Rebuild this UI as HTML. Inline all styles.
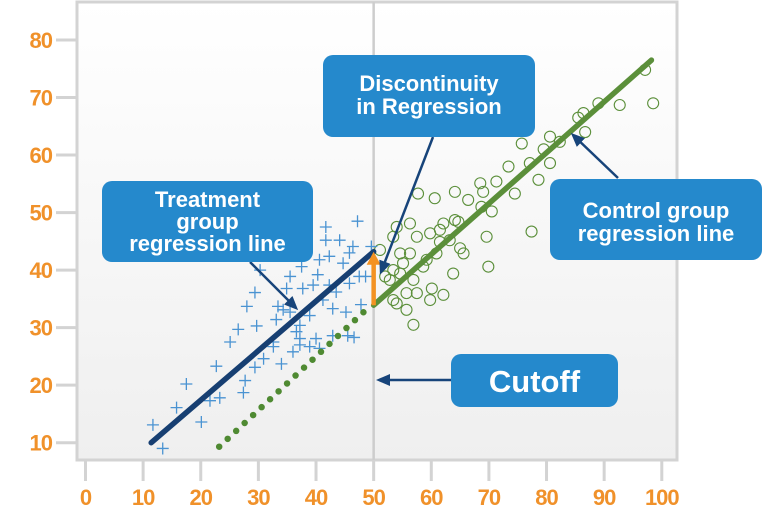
<!DOCTYPE html>
<html><head><meta charset="utf-8"><style>
html,body{margin:0;padding:0;background:#fff;}
svg{display:block;font-family:"Liberation Sans",sans-serif;}
</style></head><body>
<svg id="chart" width="767" height="529" viewBox="0 0 767 529">
<defs>
<linearGradient id="bg" x1="0" y1="0" x2="0" y2="1"><stop offset="0" stop-color="#ffffff"/><stop offset="1" stop-color="#efefef"/></linearGradient>
<marker id="ah" markerWidth="14" markerHeight="12" refX="11" refY="6" orient="auto" markerUnits="userSpaceOnUse"><path d="M0,0 L14,6 L0,12 Z" fill="#17447a"/></marker>
</defs>
<rect x="77" y="2" width="600" height="458" fill="url(#bg)" stroke="#d3d3d3" stroke-width="3"/>
<g id="axes"></g>
<g id="marks"></g>
<g id="annotations"></g>
</svg>
<script>
const xTicks=[0,10,20,30,40,50,60,70,80,90,100];
const yTicks=[10,20,30,40,50,60,70,80];
const cutoff=50;
const treatX=[11.7,13.4,15.8,17.5,20.1,21.6,23.3,22.7,25.1,26.5,28,29.4,29.7,27.7,27.4,29.4,30.9,30.3,32.6,34,33.4,35.5,36,37.2,37.5,38.9,40,40.3,41.7,41.2,42.3,42.9,44.1,45.2,45.5,45.8,47.2,47.5,48.6,47.8,49.6,46.6,40.6,38.9,37.2,36.6,37.7,39.5,42.3,43.5,34.9,33.1,32.6,34.3,40.6,45.8,46.4,44.7,41.7,42.9,35.5,37.2];
const treatY=[13.1,9,16.1,20.2,13.6,17.3,17.8,23.3,27.5,29.7,33.7,36.1,30.3,20.8,18.7,23.1,24.6,40,27.5,23.7,33.7,38.9,25.8,30.4,40.6,32.1,28.1,39.2,47.5,34.8,42.4,28.6,45.2,32.7,28.6,43,48.5,38.9,38.9,34,44.1,28.3,26.4,26.7,27,29.3,36.8,37.4,37.4,36.2,36.8,31.4,26.7,33.1,41.8,37.7,44.1,41.2,45.2,33.3,32.7,28.1];
const ctrlX=[56.9,98.5,97.1,92.7,89,86.4,86.7,80.6,82.3,75.7,73.4,77.1,80.6,78.6,77.4,68.5,71.3,69,74.5,57.7,60.6,64.1,66.4,70.5,68.7,62.1,64.7,69.6,69.9,63.8,65,65.6,56.3,54,53.4,59.8,61.5,63.2,57.5,51.1,54.6,55.1,53.4,52.8,56.9,58.6,60.9,59.2,55.7,57.5,60.1,62.1,59.8,54,55.7,52,54.6,64.1,61.5,56.3,53.4,85.5,79.5];
const ctrlY=[30.5,69,74.8,68.7,69,67.3,64,63.2,62.3,62,58,58.6,58.6,55.7,46.7,55.1,55.4,53.6,53.3,53.3,52.5,53.6,52.2,50.2,51,48.1,48.4,45.8,40.6,39.4,43.8,42.9,48.1,47.5,45.8,46.4,47,45.2,45.8,43.5,42.9,41.2,40,38.3,38.3,40.6,42.9,41.8,36,36,36.8,35.7,34.8,34.2,33.1,38.9,39.4,48.7,44.9,42.9,34.8,66.5,61];
const treatLine=[[11.4,10],[50,43.2]];
const ctrlLine=[[50,33.9],[98.2,76.5]];
const dottedLine=[[23.2,9.3],[49,33.4]];
const NS="http://www.w3.org/2000/svg";
const X=v=>85.5+5.763*v;
const Y=v=>442.7-(v-10)*5.753;
function mk(tag,attrs,parent){const e=document.createElementNS(NS,tag);for(const k in attrs)e.setAttribute(k,attrs[k]);parent.appendChild(e);return e;}
const axes=document.getElementById('axes'),marks=document.getElementById('marks'),ann=document.getElementById('annotations');
xTicks.forEach(t=>{
 const l=mk('line',{x1:X(t),x2:X(t),y1:461,y2:481,stroke:'#d3d3d3','stroke-width':3},axes);
 
 
 const tx=mk('text',{x:X(t),y:505,'text-anchor':'middle','font-size':22,'font-weight':'bold',fill:'#f0912a','letter-spacing':-1},axes);
 tx.textContent=t;
 
 
});
yTicks.forEach(t=>{
 const l=mk('line',{x1:56,x2:76,y1:Y(t),y2:Y(t),stroke:'#d3d3d3','stroke-width':3},axes);
 
 
 const tx=mk('text',{x:52,y:Y(t)+8,'text-anchor':'end','font-size':22,'font-weight':'bold',fill:'#f0912a','letter-spacing':-1},axes);
 tx.textContent=t;
 
 
});
const cl=mk('line',{x1:X(cutoff),x2:X(cutoff),y1:2,y2:460,stroke:'#cdcdcd','stroke-width':2.5},axes);


ctrlX.forEach((v,i)=>{
 const c=mk('circle',{cx:X(v),cy:Y(ctrlY[i]),r:5.5,fill:'none',stroke:'#5b8f3a','stroke-width':1.1},marks);
 
 
});
treatX.forEach((v,i)=>{
 const x=X(v),y=Y(treatY[i]);
 const p=mk('path',{d:`M${x-6},${y}H${x+6}M${x},${y-6}V${y+6}`,stroke:'#4a93d2','stroke-width':1.3,fill:'none'},marks);
 
 
});
const dl=mk('line',{x1:X(dottedLine[0][0]),y1:Y(dottedLine[0][1]),x2:X(dottedLine[1][0]),y2:Y(dottedLine[1][1]),stroke:'#4f8a32','stroke-width':6.5,'stroke-linecap':'round','stroke-dasharray':'0 11.6'},marks);


const tl=mk('line',{x1:X(treatLine[0][0]),y1:Y(treatLine[0][1]),x2:X(treatLine[1][0]),y2:Y(treatLine[1][1]),stroke:'#173f72','stroke-width':5.5,'stroke-linecap':'round'},marks);


const gl=mk('line',{x1:X(ctrlLine[0][0]),y1:Y(ctrlLine[0][1]),x2:X(ctrlLine[1][0]),y2:Y(ctrlLine[1][1]),stroke:'#5b8f3a','stroke-width':5.5,'stroke-linecap':'round'},marks);


const ox=X(cutoff),oy1=Y(ctrlLine[0][1]),oy2=Y(treatLine[1][1]);
const oa=mk('path',{d:`M${ox},${oy1}V${oy2+10}`,stroke:'#f39223','stroke-width':4.5,fill:'none'},marks);


const oh=mk('path',{d:`M${ox-7},${oy2+13}L${ox},${oy2}L${ox+7},${oy2+13}Z`,fill:'#f39223'},marks);


[[433,137,381,272,'discontinuity-pointer'],[250,262,296,308,'treatment-pointer'],[618,178,573,135,'control-pointer'],[451,380,379,380,'cutoff-pointer']].forEach(a=>{
 const l=mk('line',{x1:a[0],y1:a[1],x2:a[2],y2:a[3],stroke:'#17447a','stroke-width':2.5,'marker-end':'url(#ah)'},ann);
 
 
});
function box(x,y,w,h,lines,fs,lh,ty,name){
 const g=mk('g',{},ann);
 
 
 mk('rect',{x:x,y:y,width:w,height:h,rx:10,fill:'#2589cc'},g);
 lines.forEach((s,i)=>{const t=mk('text',{x:x+w/2,y:ty+i*lh,'text-anchor':'middle','font-size':fs,'font-weight':'bold',fill:'#fff'},g);t.textContent=s;});
}
box(323,55,212,82,['Discontinuity','in Regression'],22,23,91,'discontinuity-callout');
box(102,181,211,81,['Treatment','group','regression line'],22,22,207,'treatment-callout');
box(550,179,212,81,['Control group','regression line'],22,23,218,'control-callout');
box(451,354,167,53,['Cutoff'],31,0,392,'cutoff-callout');
</script>
</body></html>
